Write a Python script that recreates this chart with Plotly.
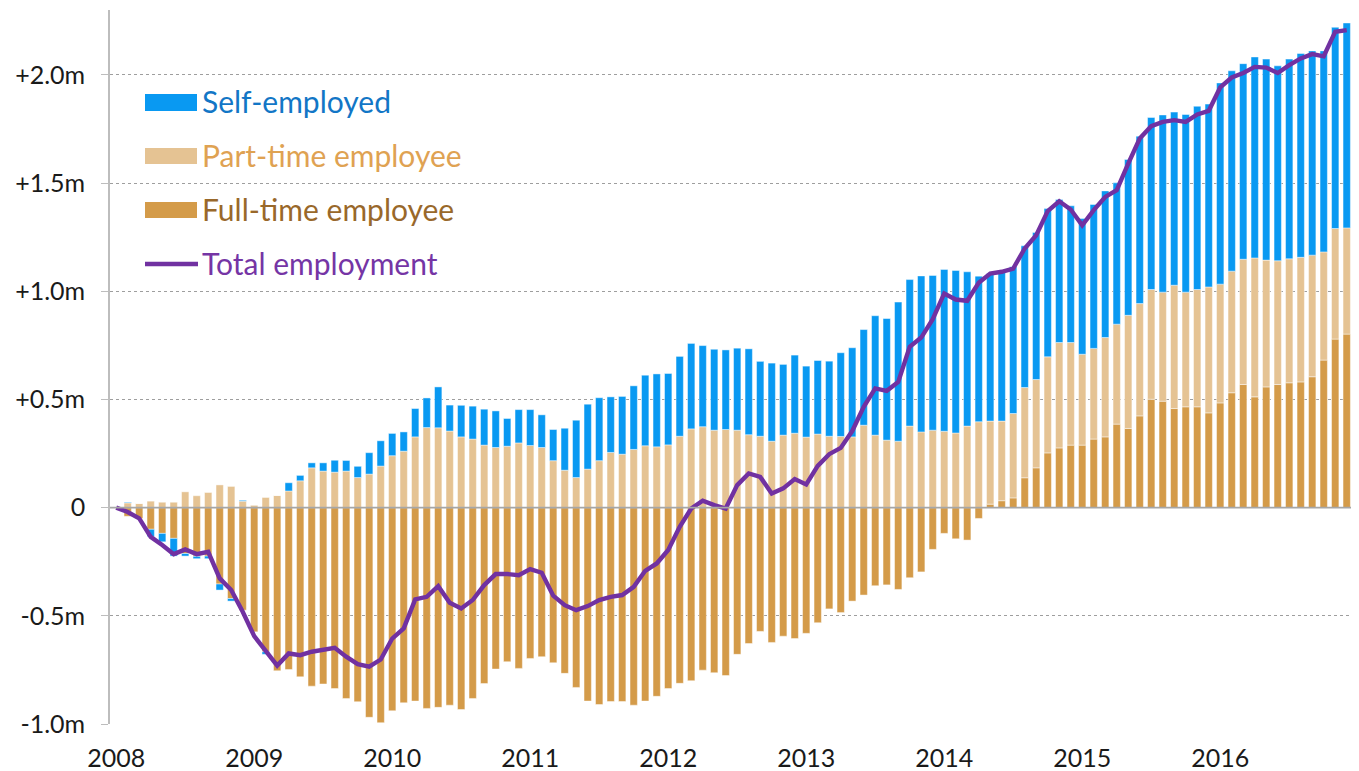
import pandas as pd
import plotly.graph_objects as go

# ---- data (millions, change since Jan 2008) ----
months = [d.strftime("%Y-%m") for d in pd.date_range("2008-01-01", "2016-12-01", freq="MS")]

full_time = [
    0, -0.04, -0.05, -0.10, -0.119, -0.142, -0.212, -0.225, -0.224, -0.353, -0.42, -0.474,
    -0.574, -0.666, -0.754, -0.748, -0.782, -0.825, -0.815, -0.836, -0.882, -0.897, -0.969, -0.994,
    -0.939, -0.902, -0.894, -0.928, -0.923, -0.913, -0.933, -0.882, -0.813, -0.746, -0.712, -0.743,
    -0.697, -0.689, -0.717, -0.766, -0.831, -0.894, -0.910, -0.896, -0.896, -0.913, -0.894, -0.872,
    -0.836, -0.812, -0.800, -0.751, -0.763, -0.776, -0.678, -0.628, -0.572, -0.623, -0.594, -0.605,
    -0.581, -0.532, -0.468, -0.485, -0.432, -0.404, -0.361, -0.357, -0.378, -0.324, -0.297, -0.193,
    -0.119, -0.144, -0.150, -0.050, 0.016, 0.032, 0.045, 0.138, 0.184, 0.253, 0.276, 0.289,
    0.289, 0.317, 0.327, 0.386, 0.366, 0.424, 0.501, 0.492, 0.458, 0.466, 0.466, 0.438,
    0.484, 0.531, 0.569, 0.512, 0.558, 0.569, 0.577, 0.581, 0.605, 0.682, 0.779, 0.802,
]
part_time = [
    0, 0.022, 0.019, 0.03, 0.025, 0.025, 0.073, 0.055, 0.07, 0.105, 0.098, 0.03,
    0.012, 0.047, 0.056, 0.077, 0.124, 0.184, 0.169, 0.164, 0.169, 0.139, 0.155, 0.192,
    0.240, 0.261, 0.327, 0.370, 0.369, 0.354, 0.327, 0.317, 0.289, 0.278, 0.284, 0.299,
    0.287, 0.278, 0.217, 0.173, 0.139, 0.178, 0.217, 0.255, 0.247, 0.269, 0.286, 0.281,
    0.290, 0.330, 0.364, 0.374, 0.358, 0.361, 0.358, 0.337, 0.330, 0.307, 0.335, 0.344,
    0.326, 0.340, 0.330, 0.329, 0.327, 0.381, 0.335, 0.312, 0.307, 0.377, 0.350, 0.358,
    0.353, 0.345, 0.377, 0.397, 0.384, 0.368, 0.390, 0.417, 0.408, 0.444, 0.487, 0.474,
    0.420, 0.419, 0.459, 0.462, 0.523, 0.519, 0.507, 0.504, 0.570, 0.530, 0.542, 0.582,
    0.549, 0.562, 0.579, 0.642, 0.586, 0.572, 0.573, 0.576, 0.562, 0.500, 0.511, 0.491,
]
self_employed = [
    0, 0.003, 0.0, -0.034, -0.039, -0.082, -0.012, -0.011, -0.012, -0.028, -0.012, 0.004,
    0.0, -0.012, 0.0, 0.038, 0.025, 0.023, 0.038, 0.055, 0.049, 0.052, 0.099, 0.117,
    0.103, 0.089, 0.131, 0.137, 0.189, 0.120, 0.146, 0.152, 0.166, 0.169, 0.128, 0.154,
    0.166, 0.151, 0.144, 0.194, 0.265, 0.300, 0.291, 0.257, 0.267, 0.294, 0.326, 0.337,
    0.330, 0.369, 0.395, 0.375, 0.374, 0.368, 0.379, 0.397, 0.346, 0.361, 0.327, 0.361,
    0.328, 0.340, 0.347, 0.387, 0.412, 0.442, 0.552, 0.562, 0.643, 0.677, 0.721, 0.715,
    0.748, 0.751, 0.713, 0.673, 0.682, 0.690, 0.678, 0.655, 0.680, 0.685, 0.661, 0.632,
    0.627, 0.665, 0.678, 0.653, 0.720, 0.774, 0.795, 0.819, 0.800, 0.821, 0.847, 0.845,
    0.930, 0.926, 0.904, 0.929, 0.929, 0.901, 0.923, 0.942, 0.944, 0.929, 0.930, 0.947,
]
total = [
    0, -0.02, -0.05, -0.135, -0.173, -0.215, -0.193, -0.215, -0.204, -0.327, -0.381, -0.481,
    -0.594, -0.659, -0.730, -0.674, -0.682, -0.666, -0.659, -0.648, -0.689, -0.723, -0.735, -0.702,
    -0.605, -0.558, -0.424, -0.412, -0.363, -0.440, -0.466, -0.427, -0.358, -0.307, -0.307, -0.312,
    -0.284, -0.301, -0.407, -0.451, -0.474, -0.455, -0.427, -0.412, -0.404, -0.366, -0.292, -0.258,
    -0.196, -0.089, -0.004, 0.032, 0.012, -0.004, 0.104, 0.158, 0.142, 0.065, 0.089, 0.132,
    0.107, 0.193, 0.247, 0.276, 0.354, 0.466, 0.551, 0.540, 0.581, 0.743, 0.786, 0.871,
    0.990, 0.962, 0.956, 1.039, 1.082, 1.090, 1.105, 1.198, 1.259, 1.371, 1.416, 1.378,
    1.305, 1.375, 1.436, 1.467, 1.590, 1.706, 1.763, 1.783, 1.791, 1.783, 1.817, 1.834,
    1.942, 1.988, 2.009, 2.037, 2.034, 2.009, 2.045, 2.076, 2.096, 2.086, 2.199, 2.207,
]

year_labels = ["2008", "2009", "2010", "2011", "2012", "2013", "2014", "2015", "2016"]
y_ticks = [-1.0, -0.5, 0, 0.5, 1.0, 1.5, 2.0]
y_tick_text = ["-1.0m", "-0.5m", "0", "+0.5m", "+1.0m", "+1.5m", "+2.0m"]

legend_names = ["Self-employed", "Part-time employee", "Full-time employee", "Total employment"]

# ---- styling ----
C_SE = "#0999F2"
C_PT = "#E5C393"
C_FT = "#D49B49"
C_TOT = "#7131A1"
T_SE = "#1276C6"
T_PT = "#DFA252"
T_FT = "#99682A"
T_TOT = "#7535A5"
FONT = "Lato"

W, H = 1359, 771
OFF = 8  # page offset of the figure inside the browser page
ML, MR, MT, MB = 102, 12, 2, 55

x = list(range(len(months)))
tick_pos = [months.index(f"{y}-01") for y in year_labels]

fig = go.Figure()
bar_line = dict(width=0.6, color="rgba(255,255,255,0.75)")
fig.add_trace(go.Bar(x=x, y=full_time, name=legend_names[2], marker=dict(color=C_FT, line=bar_line)))
fig.add_trace(go.Bar(x=x, y=part_time, name=legend_names[1], marker=dict(color=C_PT, line=bar_line)))
fig.add_trace(go.Bar(x=x, y=self_employed, name=legend_names[0], marker=dict(color=C_SE, line=bar_line)))
fig.add_trace(go.Scatter(x=x, y=total, name=legend_names[3], mode="lines",
                         line=dict(color=C_TOT, width=4.4)))

pw = W - ML - MR
ph = H - MT - MB


def px_x(p):
    return (p - OFF - ML) / pw


def px_y(p):
    return (H - MB - (p - OFF)) / ph


shapes = []
annotations = []
# zero line above bars
shapes.append(dict(type="line", xref="paper", yref="y", x0=0, x1=1, y0=0, y1=0,
                   line=dict(color="#A6A6A6", width=1.8), layer="above"))

legend_items = [
    ("rect", C_SE, T_SE, 94, 111, 101),
    ("rect", C_PT, T_PT, 148, 164, 155),
    ("rect", C_FT, T_FT, 202, 218, 209),
    ("line", C_TOT, T_TOT, 264, 264, 263),
]
for name, (kind, col, tcol, top, bot, tc) in zip(legend_names, legend_items):
    if kind == "rect":
        shapes.append(dict(type="rect", xref="paper", yref="paper",
                           x0=px_x(145), x1=px_x(197), y0=px_y(bot), y1=px_y(top),
                           fillcolor=col, line=dict(width=0), layer="above"))
    else:
        shapes.append(dict(type="line", xref="paper", yref="paper",
                           x0=px_x(145), x1=px_x(198), y0=px_y(top), y1=px_y(top),
                           line=dict(color=col, width=4.4), layer="above"))
    annotations.append(dict(text=name, xref="paper", yref="paper", x=px_x(200), y=px_y(tc),
                            xanchor="left", yanchor="middle", showarrow=False,
                            font=dict(family=FONT, size=30, color=tcol)))

fig.update_layout(
    width=W, height=H,
    margin=dict(l=ML, r=MR, t=MT, b=MB, pad=0),
    barmode="relative",
    bargap=0.36,
    showlegend=False,
    plot_bgcolor="white",
    paper_bgcolor="white",
    font=dict(family=FONT, size=22, color="#1a1a1a"),
    shapes=shapes,
    annotations=annotations,
)
fig.update_xaxes(
    range=[-0.54, 107.72],
    tickvals=tick_pos, ticktext=year_labels,
    showgrid=False, zeroline=False, showline=False,
    ticks="", tickfont=dict(family=FONT, size=25, color="#1a1a1a"),
    ticklabelstandoff=17, automargin=False,
)
fig.update_yaxes(
    range=[-1.0, 2.3],
    tickvals=y_ticks, ticktext=y_tick_text,
    showgrid=True, gridcolor="#9E9E9E", griddash="dot", gridwidth=1,
    zeroline=False,
    showline=True, linecolor="#BDBDBD", linewidth=1.6,
    ticks="outside", ticklen=7, tickcolor="#BDBDBD", tickwidth=1,
    tickfont=dict(family=FONT, size=25, color="#1a1a1a"),
    ticklabelstandoff=11, automargin=False,
)

fig.write_html("out.html")
